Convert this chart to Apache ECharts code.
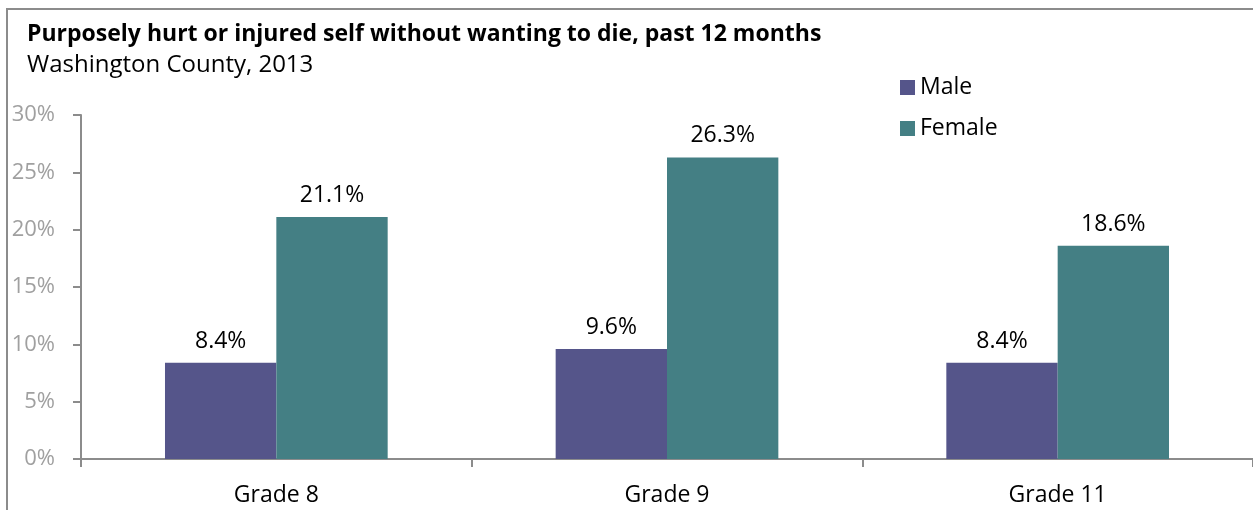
<!DOCTYPE html>
<html>
<head>
<meta charset="utf-8">
<script src="https://cdn.jsdelivr.net/npm/echarts@6/dist/echarts.min.js"></script>
<style>
html, body { margin: 0; padding: 0; background: #fff; }
#chart { width: 1253px; height: 510px; }
</style>
</head>
<body>
<div id="chart"></div>
<script>
"use strict";
var grades = ['Grade 8', 'Grade 9', 'Grade 11'];
var maleValues = [8.4, 9.6, 8.4];
var femaleValues = [21.1, 26.3, 18.6];
var yTicks = [0, 5, 10, 15, 20, 25, 30];

var chart = echarts.init(document.getElementById('chart'));
var fontName = 'Open Sans';

var labelStyle = {
    show: true,
    position: 'top',
    distance: 10,
    color: '#000',
    fontFamily: fontName,
    fontSize: 23,
    formatter: function (p) { return p.value.toFixed(1) + '%'; }
};

var option = {
    animation: false,
    textStyle: { fontFamily: fontName },
    graphic: [{
        type: 'rect',
        shape: { x: 7, y: 9, width: 1300, height: 560 },
        style: { fill: 'none', stroke: '#8c8c8c', lineWidth: 2 },
        silent: true
    }],
    title: [{
        text: 'Purposely hurt or injured self without wanting to die, past 12 months',
        left: 22,
        top: 18,
        textStyle: { fontFamily: fontName, fontSize: 23, fontWeight: 'bold', color: '#000' }
    }, {
        text: 'Washington County, 2013',
        left: 22,
        top: 48,
        textStyle: { fontFamily: fontName, fontSize: 24, fontWeight: 'normal', color: '#000' }
    }],
    legend: {
        orient: 'vertical',
        left: 895,
        top: 71,
        itemWidth: 15,
        itemHeight: 15,
        itemGap: 18,
        icon: 'rect',
        textStyle: { fontFamily: fontName, fontSize: 23, color: '#000' },
        data: ['Male', 'Female']
    },
    grid: { left: 81, right: 0, top: 115, bottom: 51, containLabel: false },
    xAxis: {
        type: 'category',
        data: grades,
        axisLine: { lineStyle: { color: '#8c8c8c', width: 2 } },
        axisTick: { show: true, length: 8, lineStyle: { color: '#8c8c8c', width: 2 } },
        axisLabel: { color: '#000', fontSize: 23, fontFamily: fontName, margin: 25 },
        splitLine: { show: false }
    },
    yAxis: {
        type: 'value',
        min: yTicks[0],
        max: yTicks[yTicks.length - 1],
        interval: 5,
        axisLine: { show: true, lineStyle: { color: '#8c8c8c', width: 2 } },
        axisTick: { show: true, length: 8, lineStyle: { color: '#8c8c8c', width: 2 } },
        axisLabel: { color: '#a0a0a0', fontSize: 22, fontFamily: fontName, margin: 26, formatter: '{value}%' },
        splitLine: { show: false }
    },
    series: [{
        name: 'Male',
        type: 'bar',
        data: maleValues,
        barGap: '0%',
        barCategoryGap: '43%',
        itemStyle: { color: '#55558a' },
        label: labelStyle
    }, {
        name: 'Female',
        type: 'bar',
        data: femaleValues,
        itemStyle: { color: '#447f84' },
        label: labelStyle
    }]
};
chart.setOption(option);
</script>
</body>
</html>
